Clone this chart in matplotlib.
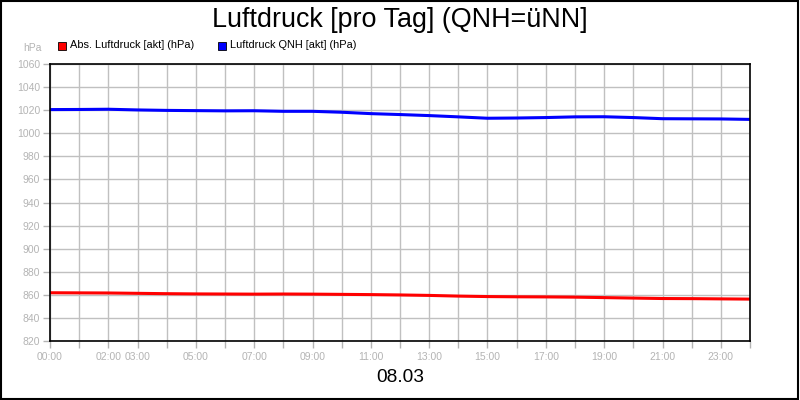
import matplotlib
matplotlib.use("Agg")
import matplotlib.pyplot as plt
from matplotlib.patches import Rectangle

plt.rcParams['font.family'] = ['Liberation Sans', 'DejaVu Sans']

# Stunden des Tages 08.03
hours = list(range(0, 25))

# Luftdruck QNH (blau)
qnh = [1020.5, 1020.6, 1020.8, 1020.2, 1019.8, 1019.6, 1019.4, 1019.5, 1019.0,
       1019.0, 1018.2, 1017.0, 1016.2, 1015.3, 1014.2, 1013.0, 1013.2, 1013.6,
       1014.2, 1014.3, 1013.6, 1012.6, 1012.5, 1012.4, 1012.0]

# Absoluter Luftdruck (rot)
absolut = [861.8, 861.7, 861.6, 861.3, 861.0, 860.8, 860.7, 860.6, 860.7,
           860.6, 860.4, 860.2, 859.9, 859.5, 858.9, 858.5, 858.3, 858.2,
           858.0, 857.6, 857.2, 856.8, 856.7, 856.5, 856.3]

yticks = list(range(820, 1061, 20))
xtick_pos = [0, 2, 3, 5, 7, 9, 11, 13, 15, 17, 19, 21, 23]

title = "Luftdruck [pro Tag] (QNH=üNN]"
date_label = "08.03"
labels = ["Abs. Luftdruck [akt] (hPa)", "Luftdruck QNH [akt] (hPa)"]

gray = "#b4b4b4"

fig = plt.figure(figsize=(8, 4), dpi=100)
fig.patch.set_facecolor("white")
fig.add_artist(Rectangle((0.001, 0.002), 0.997, 0.995, transform=fig.transFigure,
                         fill=False, edgecolor="black", linewidth=1.5))

ax = fig.add_axes([0.0625, 0.1475, 0.875, 0.6925])
ax.plot(hours, absolut, color="#ff0000", linewidth=2.2)
ax.plot(hours, qnh, color="#0000ff", linewidth=2.2)

ax.set_xlim(0, 24)
ax.set_ylim(820, 1060)
ax.set_yticks(yticks)
ax.set_xticks(range(0, 25))
ax.set_xticklabels([("%02d:00" % h) if h in xtick_pos else "" for h in range(25)])
ax.grid(True, color="#c0c0c0", linewidth=1)
ax.set_axisbelow(True)
ax.tick_params(axis="both", colors=gray, labelsize=7.5, length=5, width=1)
ax.tick_params(axis="y", pad=2)
ax.tick_params(axis="x", pad=3)
for s in ax.spines.values():
    s.set_color("black")
    s.set_linewidth(1.2)

fig.text(0.5, 0.95, title, ha="center", va="center", fontsize=19.4)
fig.text(0.5, 0.055, date_label, ha="center", va="center", fontsize=13.8)
fig.text(0.04, 0.88, "hPa", ha="center", va="center", fontsize=7.5, color=gray)

# Legende
fig.add_artist(Rectangle((58 / 800, 1 - 50 / 400), 8 / 800, 8 / 400, transform=fig.transFigure,
                         facecolor="#ff0000", edgecolor="black", linewidth=0.6))
fig.text(70 / 800, 1 - 45 / 400, labels[0], ha="left", va="center", fontsize=7.9)
fig.add_artist(Rectangle((218 / 800, 1 - 50 / 400), 8 / 800, 8 / 400, transform=fig.transFigure,
                         facecolor="#0000ff", edgecolor="black", linewidth=0.6))
fig.text(230 / 800, 1 - 45 / 400, labels[1], ha="left", va="center", fontsize=7.9)

fig.savefig("out.png", dpi=100)
